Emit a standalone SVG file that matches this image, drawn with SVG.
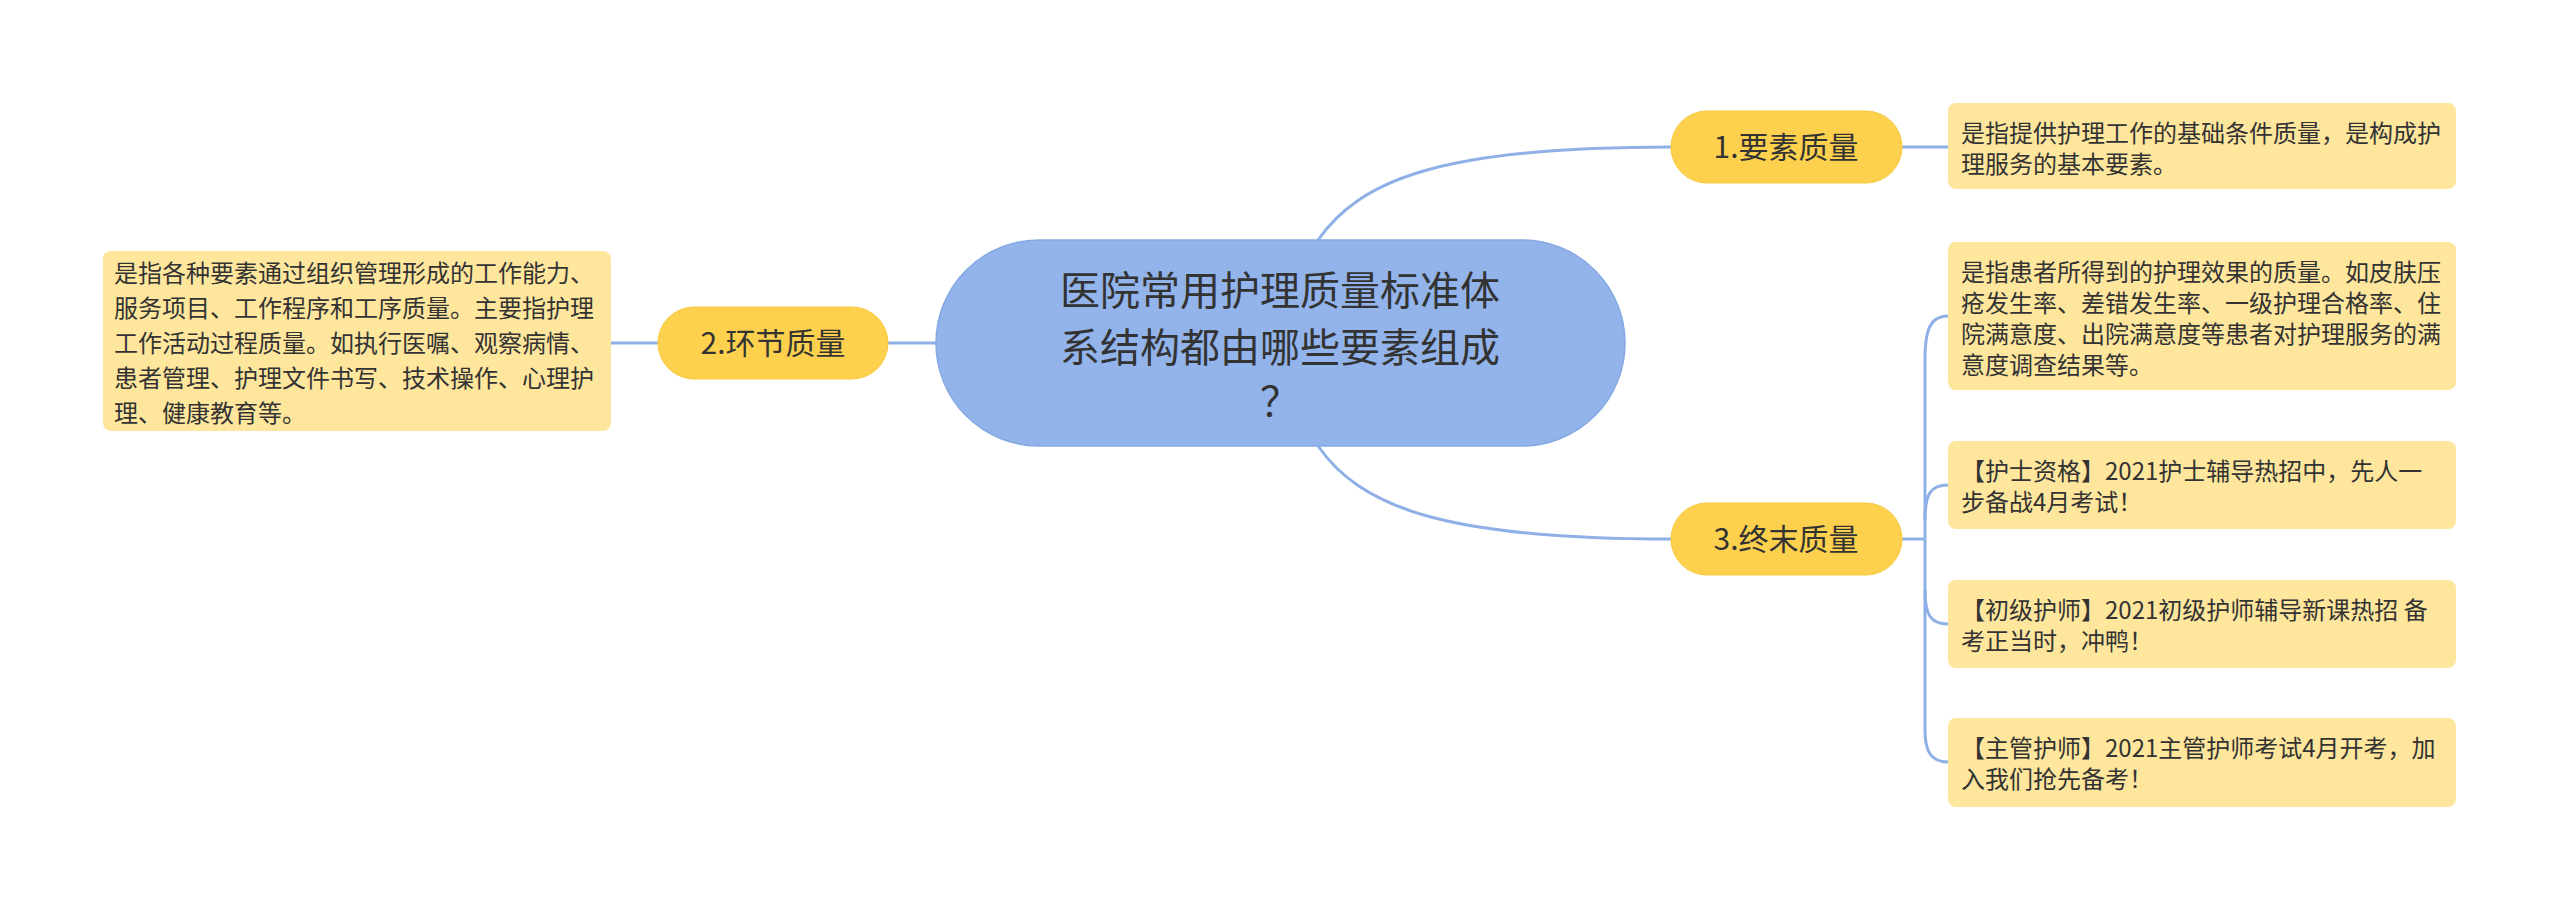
<svg xmlns="http://www.w3.org/2000/svg" width="2560" height="909" viewBox="0 0 2560 909">
<style>
text{font-family:"Noto Sans CJK SC","Noto Sans",sans-serif;fill:#333}
.c{font-size:40px;text-anchor:middle}
.m{font-size:30px;text-anchor:middle}
.l{font-size:24px}
.mid{fill:#fdd14d;stroke:#f8c93e;stroke-width:1}
.leaf{fill:#fee69d}
.ln{fill:none;stroke:#8eb0e6;stroke-width:3}
</style>
<rect width="2560" height="909" fill="#fff"/>
<g id="connectors">
<path class="ln" d="M1318,240 C1360,180 1440,147 1671,147"/>
<path class="ln" d="M1318,446 C1360,506 1440,539 1671,539"/>
<path class="ln" d="M888,343 L936,343"/>
<path class="ln" d="M611,343 L658,343"/>
<path class="ln" d="M1902,147 L1948,147"/>
<path class="ln" d="M1902,539 L1925,539"/>
<path class="ln" d="M1948,316 C1930,316 1925,330 1925,360 L1925,730 C1925,750 1930,762 1948,762"/>
<path class="ln" d="M1948,485 C1930,485 1925,495 1925,520"/>
<path class="ln" d="M1948,624 C1930,624 1925,614 1925,590"/>
</g>
<g id="center"><rect x="936" y="240" width="689" height="206" rx="103" fill="#92b4eb" stroke="#84a8e2" stroke-width="1.5"/>
<text class="c" x="1280" y="305">医院常用护理质量标准体</text>
<text class="c" x="1280" y="362">系结构都由哪些要素组成</text>
<text class="c" x="1280" y="416">？</text></g>
<g id="n1"><rect class="mid" x="1671" y="111" width="231" height="72" rx="36"/><text class="m" x="1786" y="158">1.要素质量</text></g>
<g id="n2"><rect class="mid" x="658" y="307" width="230" height="72" rx="36"/><text class="m" x="773" y="354">2.环节质量</text></g>
<g id="n3"><rect class="mid" x="1671" y="503" width="231" height="72" rx="36"/><text class="m" x="1786" y="550">3.终末质量</text></g>
<g id="left"><rect class="leaf" x="103" y="251" width="508" height="180" rx="8"/>
<text class="l"><tspan x="114" y="282">是指各种要素通过组织管理形成的工作能力、</tspan><tspan x="114" y="317">服务项目、工作程序和工序质量。主要指护理</tspan><tspan x="114" y="352">工作活动过程质量。如执行医嘱、观察病情、</tspan><tspan x="114" y="387">患者管理、护理文件书写、技术操作、心理护</tspan><tspan x="114" y="422">理、健康教育等。</tspan></text></g>
<g id="r1"><rect class="leaf" x="1948" y="103" width="508" height="86" rx="8"/>
<text class="l"><tspan x="1961" y="142">是指提供护理工作的基础条件质量，是构成护</tspan><tspan x="1961" y="173">理服务的基本要素。</tspan></text></g>
<g id="r2"><rect class="leaf" x="1948" y="242" width="508" height="148" rx="8"/>
<text class="l"><tspan x="1961" y="281">是指患者所得到的护理效果的质量。如皮肤压</tspan><tspan x="1961" y="312">疮发生率、差错发生率、一级护理合格率、住</tspan><tspan x="1961" y="343">院满意度、出院满意度等患者对护理服务的满</tspan><tspan x="1961" y="374">意度调查结果等。</tspan></text></g>
<g id="r3"><rect class="leaf" x="1948" y="441" width="508" height="88" rx="8"/>
<text class="l"><tspan x="1961" y="480">【护士资格】2021护士辅导热招中，先人一</tspan><tspan x="1961" y="511">步备战4月考试！</tspan></text></g>
<g id="r4"><rect class="leaf" x="1948" y="580" width="508" height="88" rx="8"/>
<text class="l"><tspan x="1961" y="619">【初级护师】2021初级护师辅导新课热招 备</tspan><tspan x="1961" y="650">考正当时，冲鸭！</tspan></text></g>
<g id="r5"><rect class="leaf" x="1948" y="718" width="508" height="89" rx="8"/>
<text class="l"><tspan x="1961" y="757">【主管护师】2021主管护师考试4月开考，加</tspan><tspan x="1961" y="788">入我们抢先备考！</tspan></text></g>
</svg>
